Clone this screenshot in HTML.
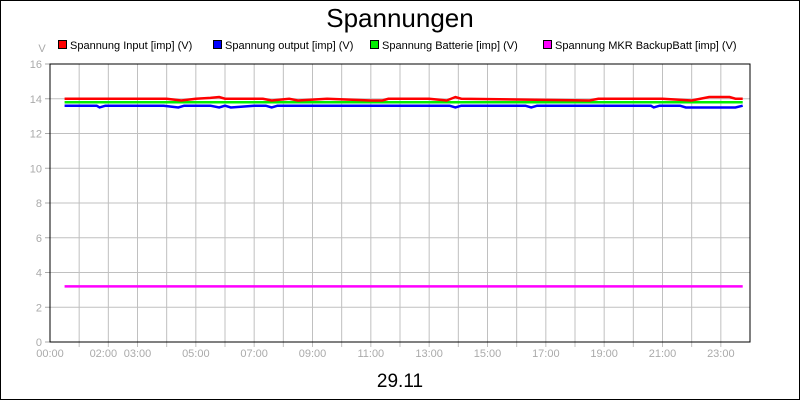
<!DOCTYPE html>
<html><head><meta charset="utf-8"><style>
body{margin:0;background:#fff}
svg{display:block;font-family:"Liberation Sans",sans-serif}
</style></head><body>
<svg id="chart" width="800" height="400">
<rect x="0.5" y="0.5" width="799" height="399" fill="#fff" stroke="#000"/>
<text x="400" y="27" text-anchor="middle" font-size="26">Spannungen</text>
<text x="400" y="387" text-anchor="middle" font-size="19">29.11</text>
<text x="42" y="52" text-anchor="middle" font-size="11" fill="#aaa">V</text>
<g id="grid"></g><g id="axes"></g><g id="series"></g><g id="legend"></g>
</svg>
<script>
const yTicks=[0,2,4,6,8,10,12,14,16];
const xLabels=["00:00","02:00","03:00","05:00","07:00","09:00","11:00","13:00","15:00","17:00","19:00","21:00","23:00"];
const xLabelHours=[0,2,3,5,7,9,11,13,15,17,19,21,23];
const seriesNames=["Spannung Input [imp] (V)","Spannung output [imp] (V)","Spannung Batterie [imp] (V)","Spannung MKR BackupBatt [imp] (V)"];
const seriesColors=["#ff0000","#0000ff","#00ee00","#ff00ff"];
const inputTimes=[0.5,4.0,4.5,5.0,5.5,5.8,6.0,7.3,7.6,8.2,8.5,9.5,11,11.4,11.6,13,13.6,13.9,14.1,18.5,18.8,21,22,22.3,22.6,23.3,23.5,23.75];
const inputValues=[14.0,14.0,13.9,14.0,14.05,14.1,14.0,14.0,13.9,14.0,13.9,14.0,13.9,13.9,14.0,14.0,13.9,14.1,14.0,13.9,14.0,14.0,13.9,14.0,14.1,14.1,14.0,14.0];
const outputTimes=[0.5,1.6,1.7,1.9,3.9,4.4,4.6,5.5,5.8,6.0,6.2,7.0,7.4,7.6,7.8,13.7,13.9,14.1,16.3,16.5,16.7,20.6,20.7,20.9,21.6,21.8,23.5,23.75];
const outputValues=[13.6,13.6,13.5,13.6,13.6,13.5,13.6,13.6,13.5,13.6,13.5,13.6,13.6,13.5,13.6,13.6,13.5,13.6,13.6,13.5,13.6,13.6,13.5,13.6,13.6,13.5,13.5,13.6];
const batteryTimes=[0.5,23.75];
const batteryValues=[13.8,13.8];
const backupTimes=[0.5,23.75];
const backupValues=[3.2,3.2];

const L=50,R=750,T=64,B=342;
const xs=h=>L+h*(R-L)/24;
const ys=v=>B-v*(B-T)/16;
const NS="http://www.w3.org/2000/svg";
function mk(tag,attrs,parent){const e=document.createElementNS(NS,tag);for(const k in attrs)e.setAttribute(k,attrs[k]);parent.appendChild(e);return e;}
const grid=document.getElementById('grid'),axes=document.getElementById('axes'),ser=document.getElementById('series'),leg=document.getElementById('legend');
for(let h=1;h<24;h++){
 const l=mk('line',{x1:xs(h),x2:xs(h),y1:T,y2:B+5,stroke:'#c0c0c0'},grid);
 
 
}
yTicks.forEach(v=>{
 if(v>0&&v<16){const l=mk('line',{x1:L,x2:R,y1:ys(v),y2:ys(v),stroke:'#c0c0c0'},grid);
 
 }
 const tk=mk('line',{x1:L-5,x2:L,y1:ys(v),y2:ys(v),stroke:'#aaa'},axes);
 
 
 const t=mk('text',{x:L-8,y:ys(v)+4,'text-anchor':'end','font-size':11,fill:'#aaa'},axes);
 t.textContent=v;
 
 
});
xLabels.forEach((s,i)=>{
 let x=xs(xLabelHours[i]); if(s==="02:00")x-=5;
 const t=mk('text',{x:x,y:B+15,'text-anchor':'middle','font-size':11,fill:'#aaa'},axes);
 t.textContent=s;
 
 
});
const plot=mk('rect',{x:L,y:T,width:R-L,height:B-T,fill:'none',stroke:'#000'},axes);


const data=[[inputTimes,inputValues],[outputTimes,outputValues],[batteryTimes,batteryValues],[backupTimes,backupValues]];
const order=[2,1,0,3];
order.forEach(i=>{
 const [tt,vv]=data[i];
 const p=mk('polyline',{points:tt.map((h,j)=>xs(h)+','+ys(vv[j])).join(' '),fill:'none',stroke:seriesColors[i],'stroke-width':2.5},ser);
 
 
});
const legX=[58,213,370,543];
seriesNames.forEach((n,i)=>{
 const r=mk('rect',{x:legX[i]+0.5,y:40.5,width:8,height:8,fill:seriesColors[i],stroke:'#000'},leg);
 
 
 const t=mk('text',{x:legX[i]+12,y:49,'font-size':11},leg);
 t.textContent=n;
 
 
});
</script>
</body></html>
